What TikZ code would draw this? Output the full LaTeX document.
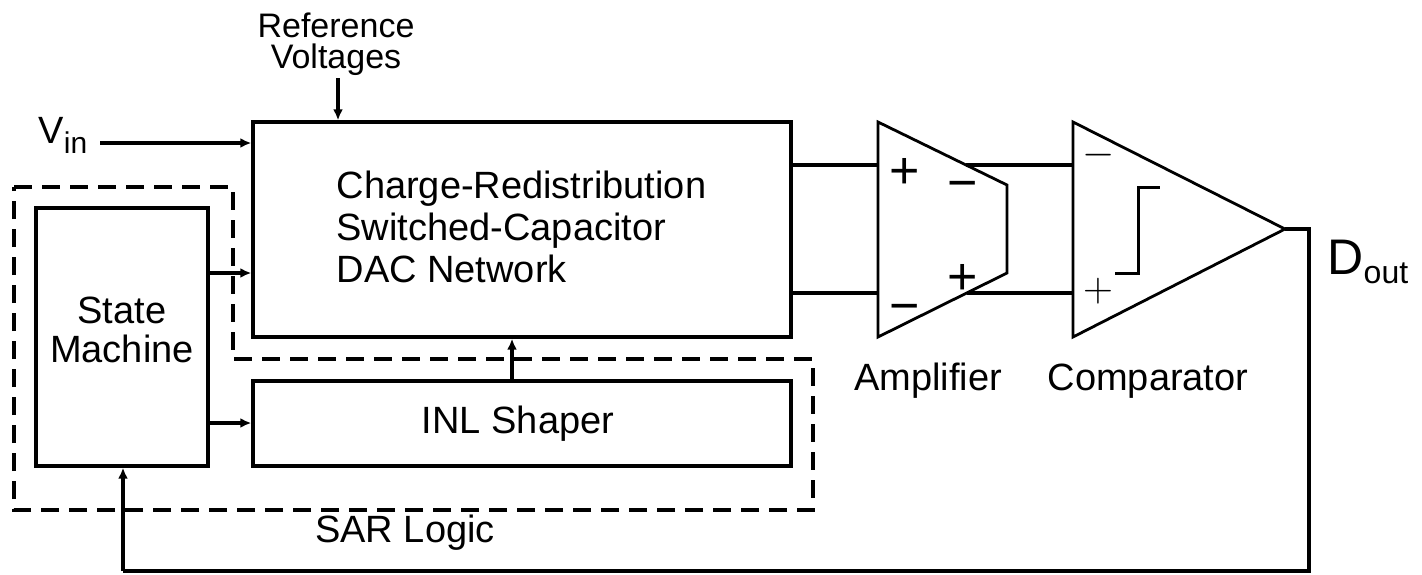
\documentclass[tikz,border=0pt]{standalone}
\usepackage{fontspec}
\setmainfont{Liberation Sans}
\usetikzlibrary{arrows.meta}
\begin{document}
\begin{tikzpicture}[x=0.5pt,y=-0.5pt,line width=1.6pt,
  blk/.style={draw,rectangle,inner sep=0pt,line width=1.7pt},
  arr/.style={-{Latex[length=5.5pt,width=5pt]}},
  lbl/.style={font=\fontsize{19}{21}\selectfont,inner sep=0pt},
  reflbl/.style={font=\fontsize{17}{15.5}\selectfont,inner sep=0pt,align=center},
  sign/.style={font=\fontsize{26}{26}\selectfont,inner sep=0pt,anchor=base},
  csign/.style={font=\fontsize{21}{21}\selectfont,inner sep=0pt,anchor=base},
  sarline/.style={dash pattern=on 9pt off 5pt,line width=1.8pt},
  wire/.style={line width=1.6pt}]
\useasboundingbox (0,0) rectangle (1422,574);

% blocks
\node[blk,minimum width=269pt,minimum height=107.5pt] (dac) at (522,229.5) {};
\node[lbl,align=left,anchor=west] (dactext) at (335,226.5)
  {Charge-Redistribution\\Switched-Capacitor\\DAC Network};
\node[blk,minimum width=86pt,minimum height=129pt] (sm) at (122,337) {};
\node[lbl,align=center,font=\fontsize{19}{19.5}\selectfont] (smtext) at (122,330) {State\\Machine};
\node[blk,minimum width=269pt,minimum height=42.5pt] (inl) at (522,423.5) {};
\node[lbl] (inltext) at (518,424) {INL Shaper};

% SAR logic dashed boundary
\draw[sarline] (14,187) -- (233,187) -- (233,359) -- (813,359) -- (813,510) -- (14,510) -- cycle;
\node[lbl,anchor=base] (sar) at (405,542) {SAR Logic};

% inputs
\node[reflbl] (ref) at (336,44) {Reference\\Voltages};
\coordinate (refin) at (338,78);
\draw[wire,arr] (refin) -- (refin |- dac.north);
\node[lbl,anchor=base west] (vin) at (37,143) {V\raisebox{-5pt}{\fontsize{15}{15}\selectfont in}};
\coordinate (vinstart) at (100,143);
\draw[wire,arr] (vinstart) -- (vinstart -| dac.west);

% state machine connections
\coordinate (smo1) at (208,273);
\coordinate (smo2) at (208,423);
\draw[wire,arr] (smo1) -- (smo1 -| dac.west);
\draw[wire,arr] (smo2) -- (smo2 -| inl.west);
\draw[wire,arr] (inl.north -| 512,0) -- (dac.south -| 512,0);

% amplifier
\coordinate (a1) at (878,122);
\coordinate (a2) at (1007,185);
\coordinate (a3) at (1007,273);
\coordinate (a4) at (878,337);
\draw[line width=1.4pt,line join=miter] (a1) -- (a2) -- (a3) -- (a4) -- cycle;
\node[lbl,anchor=base] (amplbl) at (928,390) {Amplifier};
\node[sign] (ap1) at (905,188) {+};
\node[sign] (am1) at (905,323) {−};
\node[sign] (am2) at (963,200) {−};
\node[sign] (ap2) at (963,294) {+};
\coordinate (ampinP) at (878,165);
\coordinate (ampinN) at (878,293);
\draw[wire] (ampinP -| dac.east) -- (ampinP);
\draw[wire] (ampinN -| dac.east) -- (ampinN);

% comparator
\coordinate (c1) at (1073,122);
\coordinate (capex) at (1285,229);
\coordinate (c3) at (1073,337);
\draw[line width=1.4pt,line join=miter] (c1) -- (capex) -- (c3) -- cycle;
\node[lbl,anchor=base] (complbl) at (1148,390) {Comparator};
\node[csign] (cm) at (1099,165.5) {$-$};
\node[csign] (cp) at (1098,301.5) {$+$};
\draw[line width=1.5pt] (1115,273) -- (1138,273) -- (1138,187) -- (1160,187);
\coordinate (ampoutA) at (966,165);
\coordinate (ampoutB) at (967,293);
\draw[wire] (ampoutA) -- (ampoutA -| c1);
\draw[wire] (ampoutB) -- (ampoutB -| c1);

% output and feedback
\coordinate (dcorner) at (1309,229);
\coordinate (fb1) at (1309,571);
\coordinate (fb2) at (123,571);
\draw[wire] (capex) -- (dcorner) -- (fb1) -- (fb2);
\draw[wire,arr] (fb2) -- (fb2 |- sm.south);
\node[inner sep=0pt,anchor=base west] (dout) at (1326,274)
  {{\fontsize{25}{25}\selectfont D}\raisebox{-4.5pt}{\fontsize{16}{16}\selectfont out}};
\end{tikzpicture}
\end{document}
